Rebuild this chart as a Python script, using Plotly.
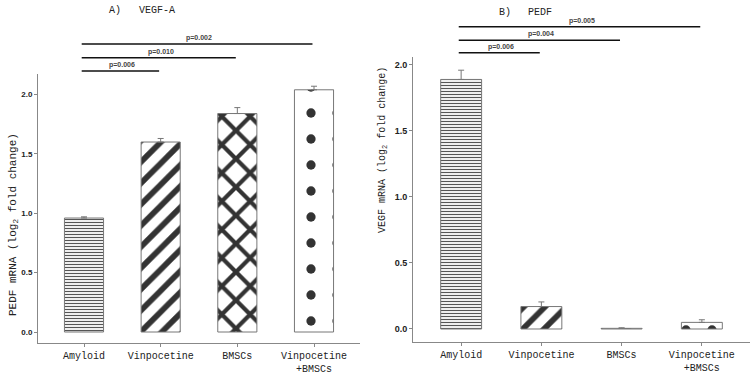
import plotly.graph_objects as go

# ---- data ----
categories = ["Amyloid", "Vinpocetine", "BMSCs", "Vinpocetine<br>+BMSCs"]
vegf_values = [0.96, 1.60, 1.84, 2.04]
vegf_err = [0.01, 0.03, 0.05, 0.03]
pedf_values = [1.89, 0.17, 0.005, 0.05]
pedf_err = [0.07, 0.035, 0.004, 0.02]
vegf_pvals = ["p=0.006", "p=0.010", "p=0.002"]
pedf_pvals = ["p=0.006", "p=0.004", "p=0.005"]
comparison_targets = [1, 2, 3]  # each vs Amyloid (index 0)
yticks = [0.0, 0.5, 1.0, 1.5, 2.0]

W, H = 750, 375
def py(px):
    return 1 - px / H

patterns = [
    dict(shape="-", size=3, solidity=0.4, fgcolor="#555555", bgcolor="white", fillmode="replace"),
    dict(shape="/", size=15, solidity=0.38, fgcolor="#333333", bgcolor="white", fillmode="replace"),
    dict(shape="x", size=20, solidity=0.38, fgcolor="#333333", bgcolor="white", fillmode="replace"),
    dict(shape=".", size=26, solidity=0.1, fgcolor="#333333", bgcolor="white", fillmode="replace"),
]

fig = go.Figure()
for xa, ya, vals, errs in [("x", "y", vegf_values, vegf_err), ("x2", "y2", pedf_values, pedf_err)]:
    for i, c in enumerate(categories):
        fig.add_trace(go.Bar(
            x=[c], y=[vals[i]], xaxis=xa, yaxis=ya, width=0.51,
            marker=dict(color="white", pattern=patterns[i],
                        line=dict(color="#777777", width=1)),
            error_y=dict(type="data", symmetric=False, array=[errs[i]], arrayminus=[0],
                         color="#777777", thickness=1, width=3),
            showlegend=False,
        ))

axis_common = dict(showline=True, linecolor="#888888", linewidth=1, showgrid=False,
                   zeroline=False, ticks="outside", ticklen=3, tickcolor="#888888")

fig.update_layout(
    width=W, height=H, margin=dict(l=0, r=0, t=0, b=0),
    paper_bgcolor="white", plot_bgcolor="white", bargap=0.3,
    xaxis=dict(domain=[38 / W, 360 / W], anchor="y", range=[-0.6, 3.6],
               categoryorder="array", categoryarray=categories,
               tickfont=dict(family="Liberation Mono", size=10, color="#222"), **axis_common),
    yaxis=dict(domain=[py(343), py(74)], anchor="x", range=[-0.0926, 2.173],
               tickvals=yticks, tickformat=".1f",
               tickfont=dict(family="Liberation Sans", size=8, color="#222", weight="bold"),
               **axis_common),
    xaxis2=dict(domain=[413 / W, 1.0], anchor="y2", range=[-0.6, 3.6],
                categoryorder="array", categoryarray=categories,
                tickfont=dict(family="Liberation Mono", size=10, color="#222"), **axis_common),
    yaxis2=dict(domain=[py(342), py(57)], anchor="x2", range=[-0.0985, 2.06],
                tickvals=yticks, tickformat=".1f",
                tickfont=dict(family="Liberation Sans", size=9, color="#222", weight="bold"),
                **axis_common),
)

shapes = []
annots = []
# significance brackets
left_levels = [71, 57.7, 44]
right_levels = [52.7, 40.3, 26.7]
for xref, levels, pvals, fs in [("x", left_levels, vegf_pvals, 7), ("x2", right_levels, pedf_pvals, 7)]:
    for k, j in enumerate(comparison_targets):
        shapes.append(dict(type="line", xref=xref, yref="paper", x0=-0.03, x1=j - 0.02,
                           y0=py(levels[k]), y1=py(levels[k]),
                           line=dict(color="#111111", width=1.6)))
        annots.append(dict(xref=xref, yref="paper", x=j / 2, y=py(levels[k] - 6),
                           text=pvals[k], showarrow=False, xanchor="center", yanchor="middle",
                           font=dict(family="Liberation Sans", size=fs, color="#444444", weight="bold")))

# panel titles and axis titles
mono = "Liberation Mono"
def label(x, y, text, size=10, angle=0, xanchor="left"):
    return dict(xref="paper", yref="paper", x=x / W, y=py(y), text=text, showarrow=False,
                xanchor=xanchor, yanchor="middle", textangle=angle,
                font=dict(family=mono, size=size, color="#222222"))

annots += [
    label(107, 11, "A)"),
    label(137, 11, "VEGF-A"),
    label(497, 13, "B)"),
    label(526, 13, "PEDF"),
    label(13, 225, "PEDF mRNA (log<sub>2</sub> fold change)", size=11, angle=-90, xanchor="center"),
    label(383, 150, "VEGF mRNA (log<sub>2</sub> fold change)", size=10, angle=-90, xanchor="center"),
]
fig.update_layout(shapes=shapes, annotations=annots)
fig.write_html("out.html")
